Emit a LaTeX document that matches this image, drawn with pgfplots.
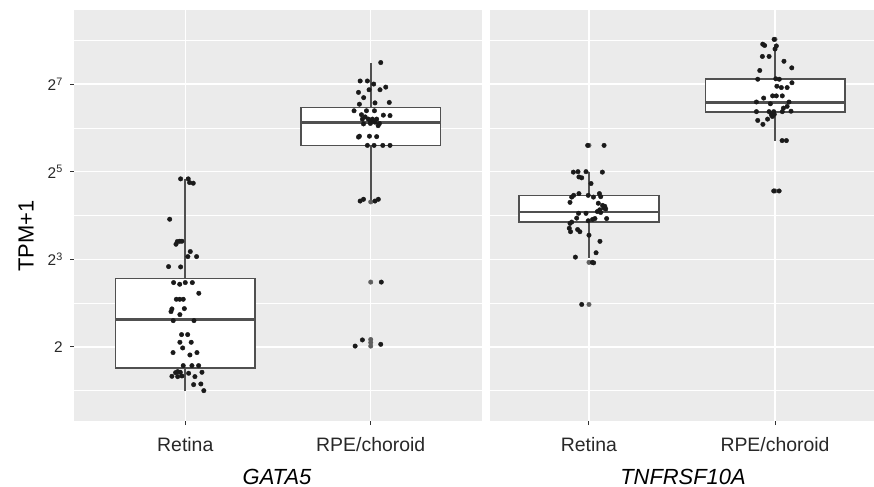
\documentclass[border=0pt]{standalone}
\usepackage{fontspec}
\setmainfont{Liberation Sans}
\usepackage{pgfplots}
\pgfplotsset{compat=1.18}
\usepgfplotslibrary{statistics}
\definecolor{panelbg}{RGB}{235,235,235}
\definecolor{boxline}{RGB}{80,80,80}
\definecolor{ptc}{RGB}{26,26,26}
\definecolor{outl}{RGB}{95,95,95}
\definecolor{tickc}{RGB}{51,51,51}
\definecolor{labc}{RGB}{40,40,40}

\pgfplotsset{
  facet/.style={
    scale only axis, height=411bp,
    ymin=-0.69, ymax=8.69,
    axis x line*=bottom, axis y line*=left, axis line style={draw=none},
    axis background/.style={fill=panelbg},
    xtick={1,2}, xticklabels={Retina, RPE/choroid},
    ytick={1,3,5,7}, minor ytick={0,2,4,6,8},
    xmajorgrids, ymajorgrids, yminorgrids,
    major grid style={white, line width=1.4bp},
    minor grid style={white, line width=0.7bp},
    tick align=outside, major tick length=4bp, minor tick length=0pt,
    tick style={tickc, line width=1bp},
    xticklabel style={font=\fontsize{19.5}{22}\selectfont, text=labc, anchor=north, inner sep=0pt, yshift=-12bp},
    yticklabel style={font=\fontsize{15.5}{18}\selectfont, text=labc, anchor=east, inner sep=0pt, xshift=-7bp},
    boxplot/draw direction=y,
    boxplot/every box/.style={draw=boxline, fill=white, line width=1.5bp},
    boxplot/every whisker/.style={draw=boxline, line width=1.9bp},
    boxplot/every median/.style={draw=boxline, line width=2.8bp},
    clip=false,
  },
  pts/.style={only marks, mark=*, mark size=2.25bp, color=ptc, mark options={draw=none, fill=ptc}},
  outs/.style={only marks, mark=*, mark size=2.25bp, color=outl, mark options={draw=none, fill=outl}},
  bx/.style={draw=boxline, fill=white, line width=1.5bp, solid},
}

\begin{document}
\begin{tikzpicture}
\path[use as bounding box] (0,0) rectangle (874bp,487bp);

% ---------- GATA5 ----------
\begin{axis}[facet, at={(74bp,66bp)}, anchor=south west, width=408bp,
  xmin=0.4, xmax=2.6,
  yticklabels={2, 2\textsuperscript{3}, 2\textsuperscript{5}, 2\textsuperscript{7}}]
\addplot[bx, boxplot prepared={lower whisker=0.0, lower quartile=0.52, median=1.62,
  upper quartile=2.56, upper whisker=4.84, draw position=1, box extend=0.75, whisker extend=0}] coordinates {};
\addplot[bx, boxplot prepared={lower whisker=4.33, lower quartile=5.60, median=6.13,
  upper quartile=6.46, upper whisker=7.49, draw position=2, box extend=0.75, whisker extend=0}] coordinates {};
\addplot[outs] coordinates {(2,4.31) (2,2.48) (2,1.17) (2,1.10) (2,1.02)};
% Retina
\addplot[pts] coordinates {
(0.975,4.836) (1.016,4.836) (1.023,4.752) (1.043,4.737) (0.916,3.915)
(0.957,3.405) (0.970,3.412) (0.982,3.412) (0.950,3.344) (1.027,3.177)
(1.014,3.062) (1.061,3.062) (0.910,2.834) (0.975,2.826) (0.937,2.469)
(0.970,2.431) (1.000,2.469) (1.038,2.469) (1.073,2.225) (0.952,2.088)
(0.970,2.088) (0.989,2.088) (0.928,1.868) (0.923,1.807) (0.995,1.875)
(0.971,1.738) (0.935,1.601) (1.047,1.601) (0.980,1.282) (1.013,1.282)
(0.971,1.107) (1.032,1.107) (0.986,0.977) (0.934,0.871) (1.063,0.871)
(1.025,0.817) (0.989,0.574) (1.036,0.574) (1.072,0.574) (0.948,0.414)
(0.959,0.437) (0.973,0.422) (1.090,0.422) (1.018,0.399) (0.928,0.330)
(0.959,0.323) (0.982,0.338) (1.052,0.323) (1.045,0.140) (1.084,0.155)
(1.100,0.003)};
% RPE/choroid
\addplot[pts] coordinates {
(2.054,7.49) (1.943,7.07) (1.982,7.07) (2.016,7.00) (2.081,6.93)
(1.934,6.81) (1.991,6.87) (2.050,6.87) (1.962,6.69) (1.939,6.54)
(2.023,6.57) (2.100,6.58) (1.910,6.39) (1.977,6.39) (2.020,6.39)
(2.068,6.29) (2.104,6.28) (1.955,6.20) (1.987,6.20) (2.009,6.20)
(2.032,6.20) (1.961,6.09) (1.998,6.10) (2.047,6.10) (2.023,6.13)
(1.970,6.25) (2.000,6.15) (2.040,6.05) (1.950,6.30)
(1.939,5.81) (1.934,5.79) (1.993,5.81) (2.032,5.80) (1.982,5.60)
(2.018,5.60) (2.065,5.60) (2.104,5.60) (1.943,4.33) (1.961,4.37)
(2.023,4.33) (2.041,4.37) (2.057,2.48) (1.916,1.02) (1.955,1.16)
(2.054,1.06)};
\end{axis}

% ---------- TNFRSF10A ----------
\begin{axis}[facet, at={(490bp,66bp)}, anchor=south west, width=384bp,
  xmin=0.468, xmax=2.532, yticklabels={}, ytick style={draw=none}]
\addplot[bx, boxplot prepared={lower whisker=3.03, lower quartile=3.85, median=4.08,
  upper quartile=4.455, upper whisker=4.99, draw position=1, box extend=0.75, whisker extend=0}] coordinates {};
\addplot[bx, boxplot prepared={lower whisker=5.71, lower quartile=6.36, median=6.57,
  upper quartile=7.11, upper whisker=7.86, draw position=2, box extend=0.75, whisker extend=0}] coordinates {};
\addplot[outs] coordinates {(1,5.60) (1,2.93) (1,1.97) (2,8.02) (2,4.56)};
% Retina
\addplot[pts] coordinates {
(0.993,5.60) (1.081,5.60) (0.916,4.99) (0.941,5.00) (0.984,5.00)
(1.072,4.99) (0.946,4.88) (0.961,4.86) (1.011,4.73) (0.907,4.42)
(0.918,4.46) (0.946,4.50) (0.996,4.46) (1.056,4.50) (1.024,4.42)
(1.063,4.43) (0.898,4.30) (1.050,4.28) (1.073,4.23) (1.085,4.21)
(1.080,4.17) (1.058,4.13) (1.045,4.09) (1.063,4.07) (1.090,4.15)
(0.944,4.05) (0.984,4.05) (1.095,3.93) (1.032,3.93) (1.019,3.91)
(0.996,3.88) (0.934,3.94) (0.907,3.85) (0.898,3.82) (0.894,3.71)
(0.901,3.63) (0.939,3.68) (0.951,3.63) (1.000,3.55) (1.059,3.41)
(0.927,3.05) (1.038,3.15) (1.018,2.93) (1.025,2.92) (0.961,1.97)};
% RPE/choroid
\addplot[pts] coordinates {
(1.995,8.02) (1.934,7.91) (1.944,7.88) (2.007,7.87) (2.000,7.80)
(1.932,7.63) (1.968,7.63) (2.048,7.52) (2.090,7.37) (1.918,7.31)
(1.907,7.11) (2.004,7.12) (2.023,7.11) (2.091,7.03) (2.034,6.92)
(2.065,6.92) (1.939,6.68) (1.987,6.73) (2.007,6.73) (2.039,6.73)
(1.900,6.59) (2.075,6.59) (2.065,6.49) (2.086,6.38) (1.900,6.37)
(1.968,6.37) (1.993,6.37) (2.039,6.37) (1.996,6.31) (1.986,6.26)
(1.980,6.30) (1.907,6.17) (1.935,6.08) (2.038,5.71) (2.061,5.71)
(1.993,4.56) (2.022,4.56) (2.010,6.95) (1.975,6.55) (2.045,6.45)
(1.960,6.20)};
\end{axis}

\node[rotate=90, font=\fontsize{22}{26}\selectfont] at (26bp,251bp) {TPM+1};
\node[anchor=base, inner sep=0pt, font=\fontsize{22}{26}\selectfont\itshape] at (277bp,3bp) {GATA5};
\node[anchor=base, inner sep=0pt, font=\fontsize{22}{26}\selectfont\itshape] at (683bp,3bp) {TNFRSF10A};
\end{tikzpicture}
\end{document}
